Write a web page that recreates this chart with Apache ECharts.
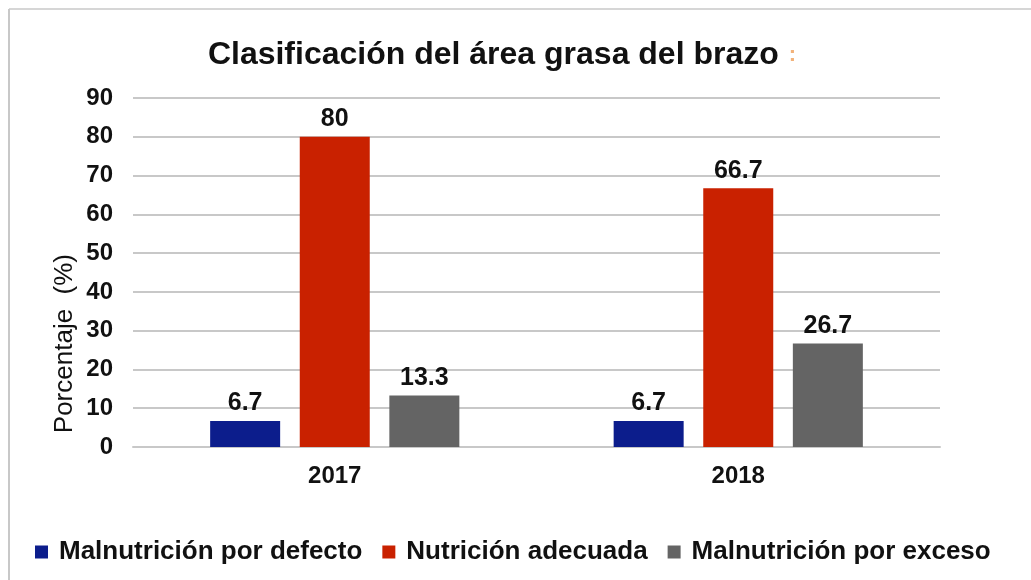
<!DOCTYPE html>
<html>
<head>
<meta charset="utf-8">
<script src="https://cdn.jsdelivr.net/npm/echarts@6/dist/echarts.min.js"></script>
<style>
  html, body { margin: 0; padding: 0; background: #fff; }
  #chart { width: 1031px; height: 580px; }
</style>
</head>
<body>
<div id="chart"></div>
<script>
const categories = ['2017', '2018'];
const seriesNames = ['Malnutrición por defecto', 'Nutrición adecuada', 'Malnutrición por exceso'];
const defecto = [6.7, 6.7];
const adecuada = [80, 66.7];
const exceso = [13.3, 26.7];
const colors = ['#0c1d8c', '#c92100', '#646464'];

const chart = echarts.init(document.getElementById('chart'));
const font = 'Liberation Sans, Arial, sans-serif';

chart.setOption({
  animation: false,
  textStyle: { fontFamily: font },
  title: {
    text: '{t|Clasificación del área grasa del brazo}  {c|:}',
    left: 497,
    textAlign: 'center',
    top: 34,
    textStyle: {
      rich: {
        t: { fontSize: 32, fontWeight: 'bold', color: '#111', fontFamily: font },
        c: { fontSize: 22, color: '#f2b27a', fontFamily: font }
      }
    }
  },
  graphic: [
    { type: 'line', shape: { x1: 9, y1: 9, x2: 1031, y2: 9 }, style: { stroke: '#d6d6d6', lineWidth: 2 } },
    { type: 'line', shape: { x1: 9, y1: 9, x2: 9, y2: 580 }, style: { stroke: '#c8c8c8', lineWidth: 2 } },
    {
      type: 'text', left: 52, top: 254, rotation: Math.PI / 2,
      style: { text: 'Porcentaje  (%)', font: '26px ' + font, fill: '#111' }
    }
  ],
  legend: {
    data: seriesNames,
    left: 30,
    top: 534,
    icon: 'rect',
    itemWidth: 13,
    itemHeight: 13,
    itemGap: 20,
    textStyle: { fontSize: 26, fontWeight: 'bold', color: '#111', padding: [0, 0, 0, 6] }
  },
  grid: { left: 133, right: 91, top: 98, bottom: 133 },
  xAxis: {
    type: 'category',
    data: categories,
    axisLine: { lineStyle: { color: '#c8c8c8', width: 2 } },
    axisTick: { show: false },
    axisLabel: { fontSize: 24, fontWeight: 'bold', color: '#111', margin: 17 }
  },
  yAxis: {
    type: 'value',
    min: 0,
    max: 90,
    interval: 10,
    axisLine: { show: false },
    axisTick: { show: false },
    axisLabel: { fontSize: 24, fontWeight: 'bold', color: '#111', margin: 20 },
    splitLine: { lineStyle: { color: '#c8c8c8', width: 2 } }
  },
  series: [defecto, adecuada, exceso].map((d, i) => ({
    name: seriesNames[i],
    type: 'bar',
    data: d,
    barWidth: 70,
    barGap: '28%',
    itemStyle: { color: colors[i] },
    label: {
      show: true,
      position: 'top',
      distance: 5,
      fontSize: 25,
      fontWeight: 'bold',
      color: '#111'
    }
  }))
});
</script>
</body>
</html>
